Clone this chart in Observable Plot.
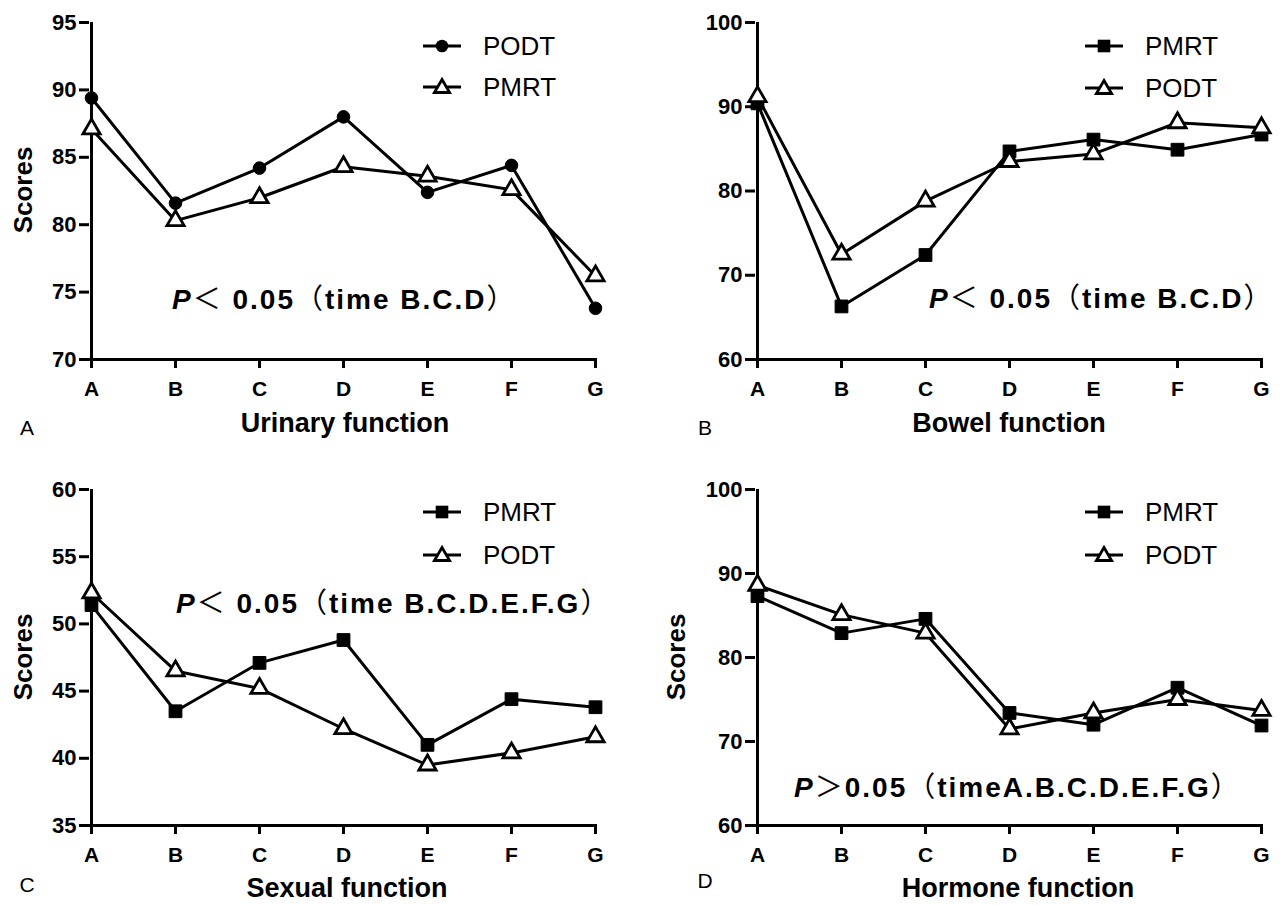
<!DOCTYPE html>
<html>
<head>
<meta charset="utf-8">
<script src="https://cdn.jsdelivr.net/npm/d3@7"></script>
<script src="https://cdn.jsdelivr.net/npm/@observablehq/plot@0.6"></script>
<style>
  body { margin: 0; background: #fff; }
  #wrap { position: relative; width: 1284px; height: 905px; background: #fff; font-family: "Liberation Sans", Arial, sans-serif; color: #000; overflow: hidden; }
  .panel { position: absolute; }
  .abs { position: absolute; white-space: nowrap; line-height: 1; }
  .title { font-weight: bold; font-size: 27px; transform: translate(-50%, -50%); }
  .ylab { font-weight: bold; font-size: 26px; transform: translate(-50%, -50%) rotate(-90deg); }
  .letter { font-size: 21px; transform: translate(-50%, -50%); }
  .ptext { font-size: 28px; letter-spacing: 2px; transform: translate(0, -50%); }
  .ptext b { font-weight: bold; }
  .ptext .cjk { font-family: "Noto Sans CJK SC", sans-serif; font-weight: normal; }
  .leg { font-size: 26px; transform: translate(0, -50%); display: flex; align-items: center; }
  .leg svg { margin-right: 20px; }
</style>
</head>
<body>
<div id="wrap"></div>
<script>
// ---- data ----
const timepoints = ["A", "B", "C", "D", "E", "F", "G"];

const urinaryPODT = [89.4, 81.6, 84.2, 88.0, 82.4, 84.4, 73.8];
const urinaryPMRT = [87.1, 80.3, 82.0, 84.3, 83.6, 82.6, 76.2];

const bowelPMRT = [90.4, 66.3, 72.4, 84.7, 86.1, 84.9, 86.7];
const bowelPODT = [91.2, 72.5, 78.8, 83.5, 84.4, 88.1, 87.5];

const sexualPMRT = [51.4, 43.5, 47.1, 48.8, 41.0, 44.4, 43.8];
const sexualPODT = [52.3, 46.5, 45.2, 42.2, 39.5, 40.4, 41.6];

const hormonePMRT = [87.3, 82.9, 84.6, 73.4, 72.0, 76.4, 71.9];
const hormonePODT = [88.6, 85.1, 82.9, 71.5, 73.4, 75.0, 73.7];

const ticksUrinary = [70, 75, 80, 85, 90, 95];
const ticksBowel = [60, 70, 80, 90, 100];
const ticksSexual = [35, 40, 45, 50, 55, 60];
const ticksHormone = [60, 70, 80, 90, 100];

// ---- layout ----
const wrap = document.getElementById("wrap");

const symStyle = {
  circle: {symbol: "circle", r: 6.3, fill: "black", stroke: "black", strokeWidth: 1},
  square: {symbol: "square", r: 7.2, fill: "black", stroke: "black", strokeWidth: 1},
  triangle: {symbol: "triangle", r: 6.4, fill: "white", stroke: "black", strokeWidth: 2.8}
};

function seriesRows(name, vals) {
  return timepoints.map((t, i) => ({t, v: vals[i], s: name}));
}

function addDiv(cls, left, top, html) {
  const d = document.createElement("div");
  d.className = "abs " + cls;
  d.style.left = left + "px";
  d.style.top = top + "px";
  d.innerHTML = html;
  wrap.appendChild(d);
  return d;
}

function legendSwatch(sym) {
  const sz = 40;
  let shape = "";
  const cx = 19, cy = 11;
  if (sym === "circle") shape = `<circle cx="${cx}" cy="${cy}" r="6.3" fill="black"/>`;
  if (sym === "square") shape = `<rect x="${cx-6.3}" y="${cy-6.3}" width="12.6" height="12.6" fill="black"/>`;
  if (sym === "triangle") shape = `<path d="M${cx},${cy-7.5} L${cx+7.6},${cy+5.5} L${cx-7.6},${cy+5.5} Z" fill="white" stroke="black" stroke-width="2.8" stroke-linejoin="miter"/>`;
  return `<svg width="${sz}" height="22" viewBox="0 0 ${sz} 22"><line x1="0" y1="${cy}" x2="38" y2="${cy}" stroke="black" stroke-width="3"/>${shape}</svg>`;
}

function makePanel(cfg) {
  const rows = [...seriesRows(cfg.s1.name, cfg.s1.vals), ...seriesRows(cfg.s2.name, cfg.s2.vals)];
  const ymin = d3.min(cfg.ticks), ymax = d3.max(cfg.ticks);
  const chart = Plot.plot({
    width: cfg.w, height: cfg.h,
    marginLeft: cfg.ml, marginRight: cfg.mr, marginTop: cfg.mt, marginBottom: cfg.mb,
    style: {background: "white", color: "black", overflow: "visible", fontFamily: "'Liberation Sans', Arial, sans-serif"},
    x: {type: "point", domain: timepoints, padding: 0},
    y: {domain: [ymin, ymax], nice: false},
    marks: [
      Plot.axisY({ticks: cfg.ticks, tickSize: 10, tickPadding: 3, label: null, fontSize: 22, fontWeight: "bold", strokeWidth: 3}),
      Plot.axisX({tickSize: 9, tickPadding: 13, label: null, fontSize: 21, fontWeight: "bold", strokeWidth: 3}),
      Plot.ruleX([timepoints[0]], {stroke: "black", strokeWidth: 3}),
      Plot.ruleY([ymin], {stroke: "black", strokeWidth: 3}),
      Plot.line(rows, {x: "t", y: "v", z: "s", stroke: "black", strokeWidth: 3}),
      Plot.dot(rows.filter(d => d.s === cfg.s1.name), {x: "t", y: "v", ...symStyle[cfg.s1.sym]}),
      Plot.dot(rows.filter(d => d.s === cfg.s2.name), {x: "t", y: "v", ...symStyle[cfg.s2.sym]})
    ]
  });
  const svg = d3.select(chart.tagName.toLowerCase() === "svg" ? chart : chart.querySelector("svg"));
  svg.selectAll("text").each(function() {
    const g = this.closest("g");
    const lab = (g && g.getAttribute("aria-label")) || "";
    const isX = lab.indexOf("x-axis") >= 0;
    d3.select(this).style("font-size", isX ? "21px" : "22px").style("font-weight", "bold").style("fill", "black");
  });
  svg.selectAll("g").filter(function() {
    const a = this.getAttribute("aria-label") || "";
    return /axis tick$/.test(a);
  }).style("stroke-width", "3px").selectAll("path").style("stroke-width", "3px");

  const holder = document.createElement("div");
  holder.className = "panel";
  holder.style.left = cfg.left + "px";
  holder.style.top = cfg.top + "px";
  holder.appendChild(chart);
  wrap.appendChild(holder);

  addDiv("title", cfg.titleX, cfg.titleY, cfg.title);
  addDiv("letter", cfg.letterX, cfg.letterY, cfg.letter);
  if (cfg.ylab) addDiv("ylab", cfg.ylabX, cfg.ylabY, "Scores");
  addDiv("ptext", cfg.pX, cfg.pY, cfg.ptext);
  addDiv("leg", cfg.legX, cfg.legY1, legendSwatch(cfg.s1.sym) + cfg.s1.name);
  addDiv("leg", cfg.legX, cfg.legY2, legendSwatch(cfg.s2.sym) + cfg.s2.name);
}

const pLess = tail => `<b><i>P</i></b><span class="cjk">＜</span><b> 0.05</b><span class="cjk">（</span><b>${tail}</b><span class="cjk">）</span>`;
const pMore = tail => `<b><i>P</i></b><span class="cjk">＞</span><b>0.05</b><span class="cjk">（</span><b>${tail}</b><span class="cjk">）</span>`;

makePanel({
  left: 0, top: 0, w: 640, h: 452, ml: 89, mr: 43, mt: 22, mb: 93,
  ticks: ticksUrinary,
  s1: {name: "PODT", vals: urinaryPODT, sym: "circle"},
  s2: {name: "PMRT", vals: urinaryPMRT, sym: "triangle"},
  title: "Urinary function", titleX: 345, titleY: 423,
  letter: "A", letterX: 27, letterY: 427,
  ylab: true, ylabX: 23, ylabY: 190,
  ptext: pLess("time B.C.D"), pX: 172, pY: 298,
  legX: 423, legY1: 46, legY2: 87
});

makePanel({
  left: 640, top: 0, w: 644, h: 452, ml: 115, mr: 21, mt: 22, mb: 93,
  ticks: ticksBowel,
  s1: {name: "PMRT", vals: bowelPMRT, sym: "square"},
  s2: {name: "PODT", vals: bowelPODT, sym: "triangle"},
  title: "Bowel function", titleX: 1009, titleY: 423,
  letter: "B", letterX: 705, letterY: 427,
  ylab: false,
  ptext: pLess("time B.C.D"), pX: 929, pY: 297,
  legX: 1085, legY1: 46, legY2: 88
});

makePanel({
  left: 0, top: 452, w: 640, h: 453, ml: 89, mr: 43, mt: 37, mb: 80,
  ticks: ticksSexual,
  s1: {name: "PMRT", vals: sexualPMRT, sym: "square"},
  s2: {name: "PODT", vals: sexualPODT, sym: "triangle"},
  title: "Sexual function", titleX: 347, titleY: 888,
  letter: "C", letterX: 27, letterY: 884,
  ylab: true, ylabX: 23, ylabY: 657,
  ptext: pLess("time B.C.D.E.F.G"), pX: 176, pY: 602,
  legX: 423, legY1: 512, legY2: 555
});

makePanel({
  left: 640, top: 452, w: 644, h: 453, ml: 115, mr: 21, mt: 37, mb: 80,
  ticks: ticksHormone,
  s1: {name: "PMRT", vals: hormonePMRT, sym: "square"},
  s2: {name: "PODT", vals: hormonePODT, sym: "triangle"},
  title: "Hormone function", titleX: 1018, titleY: 888,
  letter: "D", letterX: 705, letterY: 880,
  ylab: true, ylabX: 676, ylabY: 657,
  ptext: pMore("timeA.B.C.D.E.F.G"), pX: 794, pY: 786,
  legX: 1085, legY1: 512, legY2: 555
});
</script>
</body>
</html>
